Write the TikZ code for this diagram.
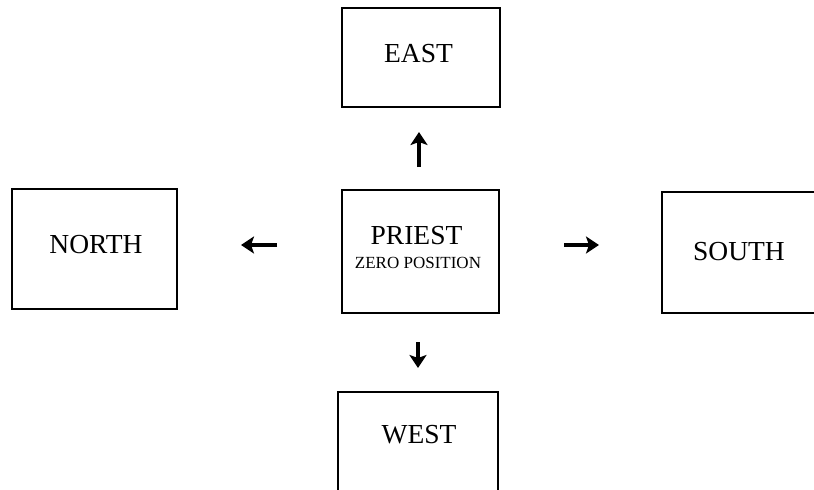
\documentclass[tikz,border=0pt]{standalone}
\usepackage{fontspec}
\setmainfont{Liberation Serif}
\usetikzlibrary{arrows.meta}
\tikzset{
  dirbox/.style={draw=black, line width=2pt, rectangle, inner sep=0pt},
  biglbl/.style={anchor=base, inner sep=0pt, font=\fontsize{27.5}{32}\selectfont},
  smalllbl/.style={anchor=base, inner sep=0pt, font=\fontsize{17}{20}\selectfont},
  dirarrow/.style={line width=3.6pt, -{Stealth[length=13pt,width=17pt,inset=3pt]}}
}
\begin{document}
\begin{tikzpicture}[x=1pt,y=-1pt]
\useasboundingbox (0,0) rectangle (814,490);
\clip (0,0) rectangle (814,490);
% boxes
\node[dirbox, minimum width=158pt, minimum height=99pt]  (east)   at (421,57.5)  {};
\node[dirbox, minimum width=165pt, minimum height=120pt] (north)  at (94.5,249)  {};
\node[dirbox, minimum width=157pt, minimum height=123pt] (priest) at (420.5,251.5) {};
\node[dirbox, minimum width=154pt, minimum height=121pt] (south)  at (739,252.5) {};
\node[dirbox, minimum width=160pt, minimum height=113pt] (west)   at (418,448.5) {};
% labels
\node[biglbl]   (eastT)   at (418.5,62)  {EAST};
\node[biglbl]   (northT)  at (96,253)    {NORTH};
\node[biglbl]   (priestT) at (416.5,244) {PRIEST};
\node[smalllbl] (zeroT)   at (418,268)   {ZERO POSITION};
\node[biglbl]   (southT)  at (739,260)   {SOUTH};
\node[biglbl]   (westT)   at (419,443)   {WEST};
% arrows
\draw[dirarrow, shorten <=22pt, shorten >=24pt] ([xshift=-1.5pt]priest.north) -- ([xshift=-2pt]east.south);
\draw[dirarrow, shorten <=28pt, shorten >=23pt] ([xshift=-2.5pt]priest.south) -- (west.north);
\draw[dirarrow, shorten <=64pt, shorten >=63pt] ([yshift=6.5pt]priest.west) -- ([yshift=4pt]north.east);
\draw[dirarrow, shorten <=64pt, shorten >=62pt] ([yshift=6.5pt]priest.east) -- ([yshift=7.5pt]south.west);
\end{tikzpicture}
\end{document}
